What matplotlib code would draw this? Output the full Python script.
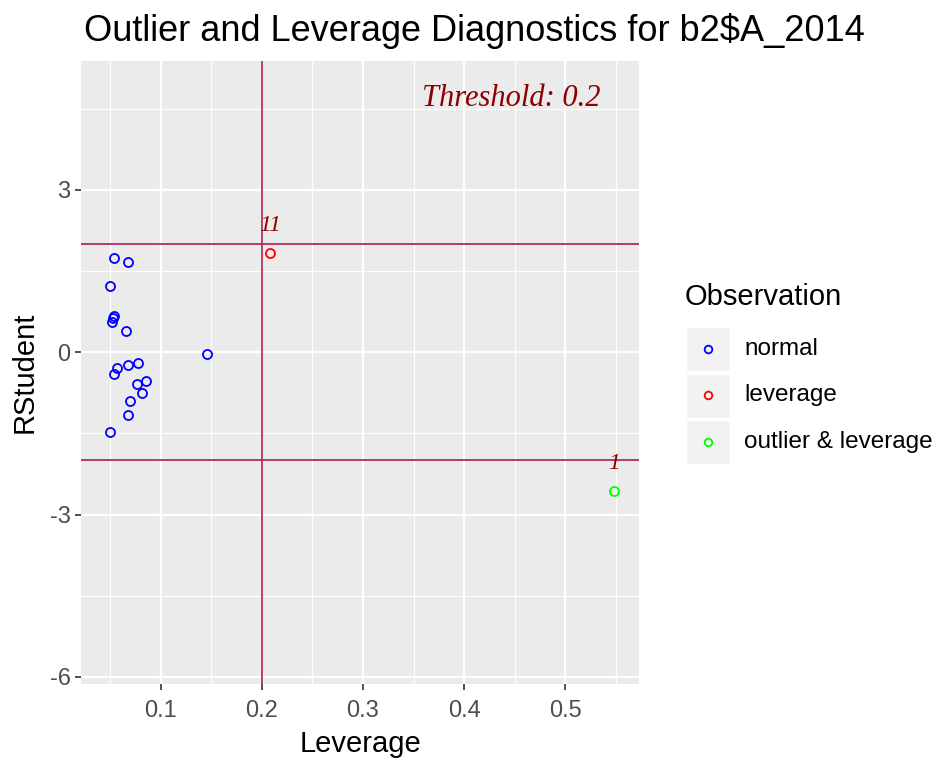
import matplotlib
matplotlib.use('Agg')
import matplotlib.pyplot as plt
from matplotlib.lines import Line2D
from matplotlib.patches import Rectangle
import numpy as np

# leverage / rstudent values
normal_lev = [0.054, 0.068, 0.050, 0.054, 0.053, 0.052, 0.066, 0.146, 0.078, 0.068,
              0.057, 0.054, 0.086, 0.077, 0.082, 0.070, 0.068, 0.050]
normal_rs = [1.74, 1.66, 1.22, 0.66, 0.63, 0.55, 0.40, -0.04, -0.20, -0.23,
             -0.29, -0.41, -0.53, -0.59, -0.75, -0.90, -1.16, -1.48]
lev_lev = [0.208]
lev_rs = [1.84]
lev_obs = ['11']
out_lev = [0.548]
out_rs = [-2.56]
out_obs = ['1']

threshold = 0.2
rs_bounds = [-2, 2]

W, H = 938, 759
fig = plt.figure(figsize=(W / 100, H / 100), dpi=100)
ax = fig.add_axes([81 / W, 1 - 684 / H, 558 / W, 623 / H])
ax.set_facecolor('#EBEBEB')
for s in ax.spines.values():
    s.set_visible(False)

ax.set_xlim(0.0214, 0.5728)
ax.set_ylim(-6.13, 5.38)
ax.set_xticks([0.1, 0.2, 0.3, 0.4, 0.5])
ax.set_xticklabels(['0.1', '0.2', '0.3', '0.4', '0.5'])
ax.set_yticks([-6, -3, 0, 3])
ax.set_yticklabels(['-6', '-3', '0', '3'])
ax.set_xticks(np.arange(0.05, 0.56, 0.1), minor=True)
ax.set_yticks([-4.5, -1.5, 1.5, 4.5], minor=True)
ax.grid(which='major', color='white', lw=1.6)
ax.grid(which='minor', color='white', lw=0.8)
ax.set_axisbelow(True)
ax.tick_params(which='major', length=4.5, width=1.2, color='#333333',
               labelsize=17, labelcolor='#4D4D4D', pad=3,
               labelfontfamily='Liberation Sans')
ax.tick_params(axis='x', which='major', pad=7)
ax.tick_params(which='minor', length=0)

ax.axvline(threshold, color='#B03060', lw=1.3)
for b in rs_bounds:
    ax.axhline(b, color='#B03060', lw=1.3)

mk = dict(marker='o', ls='none', markersize=6.5, mfc='none', mew=1.3)
ax.plot(normal_lev, normal_rs, mec='blue', **mk)
ax.plot(lev_lev, lev_rs, mec='red', **mk)
ax.plot(out_lev, out_rs, mec='#00FF00', **mk)

for x, y, t in zip(lev_lev + out_lev, lev_rs + out_rs, lev_obs + out_obs):
    ax.annotate(t, (x, y), xytext=(0, 12), textcoords='offset points',
                ha='center', va='bottom', color='darkred', fontsize=17,
                family='Liberation Serif', style='italic')

ax.text(0.9305, 0.963, 'Threshold: 0.2', transform=ax.transAxes, ha='right',
        va='top', color='darkred', fontsize=22, family='Liberation Serif',
        style='italic')

ax.set_xlabel('Leverage', fontsize=21, family='Liberation Sans', labelpad=6)
ax.set_ylabel('RStudent', fontsize=21, family='Liberation Sans', labelpad=8)

fig.text(84 / W, 1 - 31 / H, 'Outlier and Leverage Diagnostics for b2$A_2014',
         ha='left', va='center', fontsize=26, family='Liberation Sans')

# legend drawn by hand to mimic ggplot's key boxes
legend_labels = ['normal', 'leverage', 'outlier & leverage']
legend_colors = ['blue', 'red', '#00FF00']
fig.text(685 / W, 1 - 297 / H, 'Observation', ha='left', va='center',
         fontsize=21, family='Liberation Sans')
for i, (lab, c) in enumerate(zip(legend_labels, legend_colors)):
    yc = 349 + i * 46.5
    fig.add_artist(Rectangle((686 / W, 1 - (yc + 22) / H), 44 / W, 44 / H,
                             transform=fig.transFigure, facecolor='#F2F2F2',
                             edgecolor='white', lw=1))
    fig.add_artist(Line2D([708 / W], [1 - yc / H], transform=fig.transFigure,
                          marker='o', markersize=5.5, mfc='none', mec=c, mew=1.3))
    fig.text(744 / W, 1 - yc / H, lab, ha='left', va='center', fontsize=17.5,
             family='Liberation Sans')

fig.savefig('out.png', dpi=100)
